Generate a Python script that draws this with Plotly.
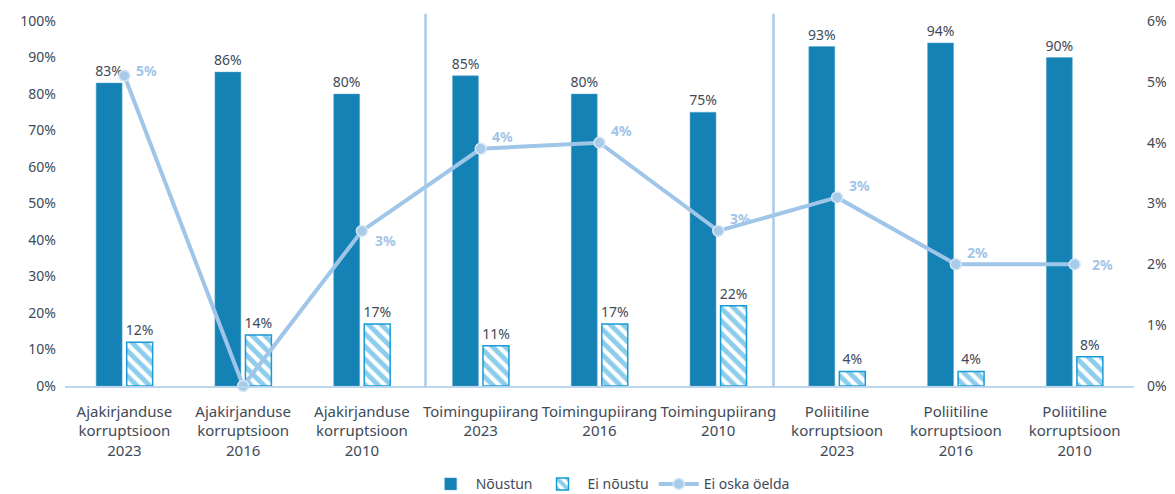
import plotly.graph_objects as go

categories = [
    "Ajakirjanduse<br>korruptsioon<br>2023",
    "Ajakirjanduse<br>korruptsioon<br>2016",
    "Ajakirjanduse<br>korruptsioon<br>2010",
    "Toimingupiirang<br>2023",
    "Toimingupiirang<br>2016",
    "Toimingupiirang<br>2010",
    "Poliitiline<br>korruptsioon<br>2023",
    "Poliitiline<br>korruptsioon<br>2016",
    "Poliitiline<br>korruptsioon<br>2010",
]
noustun = [83, 86, 80, 85, 80, 75, 93, 94, 90]
ei_noustu = [12, 14, 17, 11, 17, 22, 4, 4, 8]
ei_oska = [5.1, 0, 2.55, 3.9, 4.0, 2.55, 3.1, 2.0, 2.0]
ei_oska_labels = ["5%", "", "3%", "4%", "4%", "3%", "3%", "2%", "2%"]
left_ticks = list(range(0, 101, 10))
right_ticks = list(range(0, 7))

x = list(range(len(categories)))
FONT = "Noto Sans, Open Sans, sans-serif"
TXT = "#404a57"

fig = go.Figure()
fig.add_trace(go.Bar(
    x=x, y=noustun, name="Nõustun",
    marker=dict(color="#1482b4", line=dict(color="#5fa6cc", width=0.5)),
    text=[f"{v}%" for v in noustun], textposition="outside", constraintext="none",
    textfont=dict(size=14, color=TXT, family=FONT), cliponaxis=False,
))
fig.add_trace(go.Bar(
    x=x, y=ei_noustu, name="Ei nõustu",
    marker=dict(color="white", line=dict(color="#1a9bd7", width=1.5),
                pattern=dict(shape="\\", fgcolor="#1a9bd7", bgcolor="white",
                             size=9, solidity=0.55)),
    text=[f"{v}%" for v in ei_noustu], textposition="outside", constraintext="none",
    textfont=dict(size=14, color=TXT, family=FONT), cliponaxis=False,
))
fig.add_trace(go.Scatter(
    x=x, y=ei_oska, name="Ei oska öelda", yaxis="y2", mode="lines+markers",
    line=dict(color="#9fc5e8", width=4),
    marker=dict(size=11, color="#a8cbea", line=dict(color="#d6e6f5", width=1.5)),
    cliponaxis=False,
))

offsets = [(22, 5), (0, 0), (24, -10), (22, 12), (22, 12), (22, 12), (22, 12), (22, 12), (28, 0)]
for i, (lab, (dx, dy)) in enumerate(zip(ei_oska_labels, offsets)):
    if not lab:
        continue
    fig.add_annotation(x=x[i], y=ei_oska[i], xref="x", yref="y2", text=f"<b>{lab}</b>",
                       showarrow=False, xshift=dx, yshift=dy,
                       font=dict(size=14, color="#9fc5e8", family=FONT))

for xs in (2.535, 5.465):
    fig.add_shape(type="line", xref="x", yref="paper", x0=xs, x1=xs, y0=0, y1=1.02,
                  line=dict(color="#a9cbe9", width=2.5))

fig.update_layout(
    width=1167, height=486,
    margin=dict(l=57, r=41, t=13, b=108, autoexpand=False),
    paper_bgcolor="white", plot_bgcolor="white",
    barmode="group", bargap=0.486, bargroupgap=0.15,
    font=dict(family=FONT, size=14, color=TXT),
    showlegend=True,
    legend=dict(orientation="h", x=0.51, xanchor="center", yref="container", y=0.02,
                yanchor="middle", font=dict(size=14, color=TXT), traceorder="normal",
                itemwidth=40),
    xaxis=dict(tickmode="array", tickvals=x, ticktext=categories, range=[-0.5, 8.5],
               showline=True, linecolor="#bcd6ee", linewidth=1.5, showgrid=False,
               ticks="", tickfont=dict(size=15, color=TXT), automargin=False,
               ticklabelstandoff=11),
    yaxis=dict(range=[0, 100], tickvals=left_ticks, ticktext=[f"{t}%" for t in left_ticks],
               showgrid=False, zeroline=False, showline=False, ticks="", automargin=False,
               ticklabelstandoff=8, tickfont=dict(size=14, color=TXT)),
    yaxis2=dict(range=[0, 6], tickvals=right_ticks, ticktext=[f"{t}%" for t in right_ticks],
                overlaying="y", side="right", showgrid=False, zeroline=False, automargin=False,
                showline=False, ticks="", ticklabelstandoff=12,
                tickfont=dict(size=14, color=TXT)),
)

fig.write_html("out.html")
